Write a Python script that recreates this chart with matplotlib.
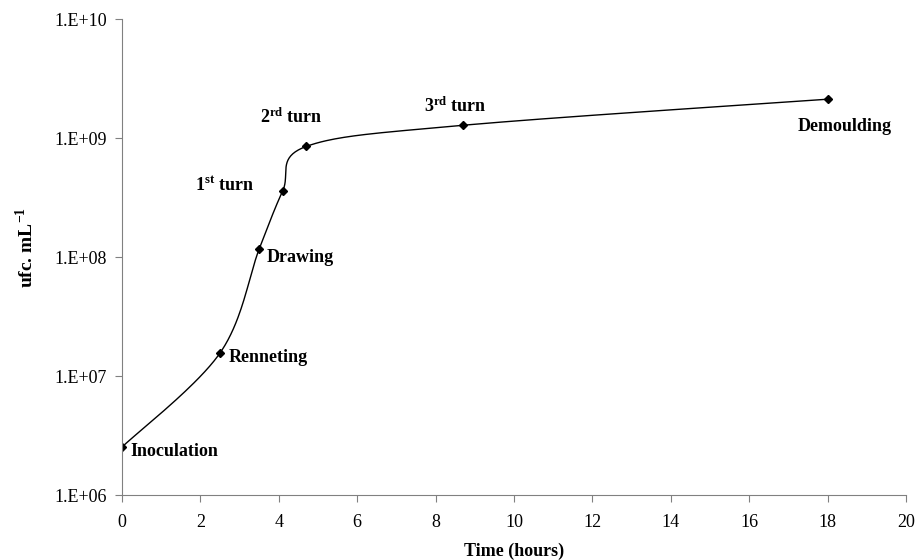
"""Bacterial growth curve during cheese making (log scale)."""

import numpy as np
import matplotlib.pyplot as plt

plt.rcParams["font.family"] = ["Liberation Serif", "DejaVu Serif"]
plt.rcParams["mathtext.fontset"] = "custom"
plt.rcParams["mathtext.rm"] = "Liberation Serif"
plt.rcParams["mathtext.bf"] = "Liberation Serif:bold"

time_h = [0.0, 2.5, 3.5, 4.1, 4.7, 8.7, 18.0]
counts = [2.53e6, 1.56e7, 1.17e8, 3.6e8, 8.5e8, 1.28e9, 2.12e9]
stages = ["Inoculation", "Renneting", "Drawing", r"$\mathbf{1^{st}}$ turn",
          r"$\mathbf{2^{rd}}$ turn", r"$\mathbf{3^{rd}}$ turn", "Demoulding"]
# label offsets in points (dx, dy) relative to each point
offsets = [(6, -3), (6, -3), (5, -6), (-63, 4), (-33, 21), (-28, 14), (-22, -20)]


def smooth(xs, ys, sx=39.2, sy=119.0, n=40):
    # Excel-style smoothed line: Catmull-Rom Bezier in screen-like units
    p = np.column_stack([np.asarray(xs) * sx, np.log10(ys) * sy])
    out = [p[:1]]
    for i in range(len(p) - 1):
        p0 = p[i - 1] if i > 0 else p[i]
        p3 = p[i + 2] if i + 2 < len(p) else p[i + 1]
        p1, p2 = p[i], p[i + 1]
        c1 = p1 + (p2 - p0) / 6
        c2 = p2 - (p3 - p1) / 6
        t = np.linspace(0, 1, n)[1:, None]
        seg = ((1 - t) ** 3) * p1 + 3 * ((1 - t) ** 2) * t * c1 \
            + 3 * (1 - t) * t ** 2 * c2 + t ** 3 * p2
        out.append(seg)
    c = np.vstack(out)
    return c[:, 0] / sx, 10 ** (c[:, 1] / sy)


fig = plt.figure(figsize=(9.15, 5.6), dpi=100)
ax = fig.add_axes([0.1333, 0.116, 0.857, 0.85])

sx_, sy_ = smooth(time_h, counts)
ax.plot(sx_, sy_, color="black", linewidth=1.0)
ax.plot(time_h, counts, linestyle="none", marker="D", markersize=4,
        color="black")

for x, y, lab, (dx, dy) in zip(time_h, counts, stages, offsets):
    ax.annotate(lab, (x, y), xytext=(dx, dy), textcoords="offset points",
                ha="left", va="center", fontsize=13, fontweight="bold")

ax.set_yscale("log")
ax.set_xlim(0, 20)
ax.set_ylim(1e6, 1e10)
ax.set_xticks(range(0, 21, 2))
ax.set_yticks([1e6, 1e7, 1e8, 1e9, 1e10])
ax.set_yticklabels(["1.E+06", "1.E+07", "1.E+08", "1.E+09", "1.E+10"])
ax.minorticks_off()

for side in ("top", "right"):
    ax.spines[side].set_visible(False)
for side in ("left", "bottom"):
    ax.spines[side].set_color("#808080")
ax.tick_params(colors="#808080", labelcolor="black", labelsize=13,
               length=5, direction="out")
ax.tick_params(axis="x", pad=9)
ax.tick_params(axis="y", pad=6)

ax.set_xlabel("Time (hours)", fontsize=13, fontweight="bold", labelpad=8)
ax.set_ylabel(r"ufc. mL$^{\mathbf{-1}}$", fontsize=14, fontweight="bold")
ax.yaxis.set_label_coords(-0.108, 0.521)

fig.savefig("out.png", dpi=100)
